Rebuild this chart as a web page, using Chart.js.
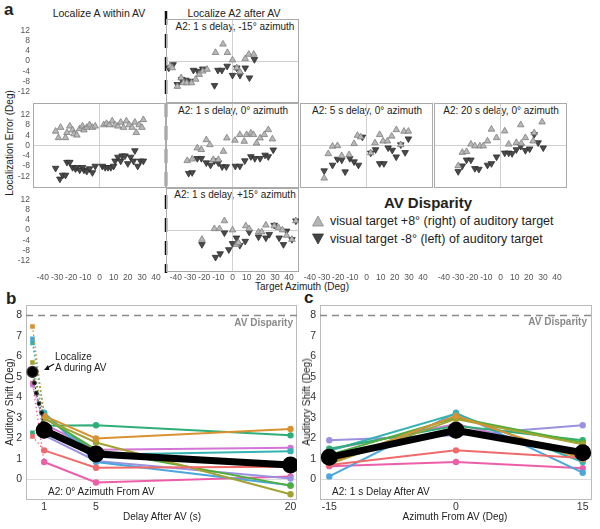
<!DOCTYPE html>
<html>
<head>
<meta charset="utf-8">
<script src="https://cdn.jsdelivr.net/npm/chart.js@4.4.0/dist/chart.umd.min.js"></script>
<style>
  body { margin: 0; width: 600px; height: 529px; position: relative; background: #fff; overflow: hidden;
         font-family: "Liberation Sans", Arial, sans-serif; color: #222; }
  canvas { position: absolute; }
  .t { position: absolute; white-space: nowrap; line-height: 1; }
  .lab { font-weight: bold; font-size: 17px; }
  .sub { font-size: 10px; transform: translate(-50%, -50%); }
  svg { position: absolute; overflow: visible; }
</style>
</head>
<body>

<div class="t lab" style="left:4px;top:1px">a</div>
<div class="t" style="left:99px;top:13px;font-size:10.5px;transform:translate(-50%,-50%)">Localize A within AV</div>
<div class="t" style="left:234px;top:13px;font-size:10.5px;transform:translate(-50%,-50%)">Localize A2 after AV</div>
<div class="t sub" style="left:235px;top:27px">A2: 1 s delay, -15° azimuth</div>
<div class="t sub" style="left:233px;top:111px">A2: 1 s delay, 0° azimuth</div>
<div class="t sub" style="left:367px;top:111px">A2: 5 s delay, 0° azimuth</div>
<div class="t sub" style="left:501px;top:111px">A2: 20 s delay, 0° azimuth</div>
<div class="t sub" style="left:235px;top:195px">A2: 1 s delay, +15° azimuth</div>
<div class="t" style="left:10px;top:143px;font-size:10px;transform:translate(-50%,-50%) rotate(-90deg)">Localization Error (Deg)</div>
<div class="t" style="left:302px;top:287px;font-size:10px;transform:translate(-50%,-50%)">Target Azimuth (Deg)</div>

<div class="t" style="left:428px;top:202px;font-size:15px;font-weight:bold;transform:translate(-50%,-50%)">AV Disparity</div>
<svg style="left:312px;top:215px" width="12" height="12"><polygon points="6,1 11.5,11 0.5,11" fill="#b5b5b5" stroke="#888" stroke-width="0.8"/></svg>
<div class="t" style="left:330px;top:221px;font-size:12.5px;transform:translateY(-50%)">visual target +8° (right) of auditory target</div>
<svg style="left:312px;top:233px" width="12" height="12"><polygon points="0.5,1 11.5,1 6,11" fill="#444" stroke="#333" stroke-width="0.8"/></svg>
<div class="t" style="left:330px;top:239px;font-size:12.5px;transform:translateY(-50%)">visual target -8° (left) of auditory target</div>

<svg style="left:164px;top:11px" width="4" height="262"><line x1="2" y1="0" x2="2" y2="262" stroke="#111" stroke-width="2.5" stroke-dasharray="14 9"/></svg>

<div class="t lab" style="left:6px;top:290px">b</div>
<div class="t lab" style="left:304px;top:289px">c</div>

<script>
// ---- panel a: localization error (deg) vs target azimuth (deg), [azimuth, error]
const azTicks = [-40, -30, -20, -10, 0, 10, 20, 30, 40];
const errTicks = [-12, -8, -4, 0, 4, 8, 12];

const withinUp = [[-31,5.5],[-29,3],[-27.5,7],[-24,3],[-23,5],[-21,7.5],[-19,6],[-18,4.5],[-16,4],[-14,6.5],[-12,7.5],[-11,6],[-9,7],[-7,8],[-5,7],[-3,7.5],[3,8],[5,8.5],[7,8],[9,9.5],[11,8],[13,7.5],[15,9],[17,7],[19,9.5],[21,8],[23,7],[25,9],[26,5],[28,8],[30,7],[31,10]];
const withinDown = [[-31,-8.8],[-28,-13],[-26,-11.5],[-24,-11.5],[-23,-6.5],[-21,-6.5],[-19,-8.5],[-17,-9],[-16,-8.5],[-14,-9.5],[-12,-8.5],[-11,-9.5],[-9,-10],[-7,-9],[-5,-10.5],[-3,-8],[2,-8],[4,-8.5],[6,-8.5],[8,-8.5],[10,-8],[11,-6],[13,-4.5],[15,-6],[16,-4],[18,-4],[20,-7],[22,-4.5],[24,-6],[25,-2],[27,-8],[29,-6],[31,-6]];

const m15Up = [[-44,-2],[-42.6,-2.7],[-39,-10],[-36.3,-6.6],[-34.6,-8.6],[-32.3,-8.6],[-29,-8.6],[-26,-7.2],[-23.5,-5.3],[-21,-4],[-18,-3.3],[-12,3.3],[-6.7,6.6],[-3.6,3.3],[0,0.4],[3,-2.7],[5.3,-4.3],[9,0.9],[11.5,2.6],[15,2.6]];
const m15Down = [[-45,-2.7],[-42,-1.4],[-39,-9.2],[-36,-7.2],[-33,-7.5],[-30,-7.9],[-27.6,-3.6],[-24.5,-4],[-21,-3.1],[-12.7,-9.6],[-10.3,-3.6],[-7.5,-3.6],[-3.8,-2],[0,-5.6],[3,-2.7],[5.3,-5.6],[9,-2.7],[12,-6.6],[15.5,0.6]];

const d1Up = [[-32,-5.9],[-28.5,-5.3],[-24.9,-1],[-22,-1.6],[-18.5,2.2],[-16,0.3],[-13.6,-5.5],[-10,-5.5],[-6.4,-2.3],[-4,2.9],[1.7,2],[5.2,4.2],[8.3,1.6],[10,4.2],[13,4.8],[14.8,4.2],[17,0.9],[19.5,2.9],[22.5,4.2],[25.3,6.1],[28.2,2.5]];
const d1Down = [[-31,-10.8],[-28.5,-10.5],[-24.9,-5],[-22,-5],[-18.5,-6.7],[-15.5,-7.6],[-12.7,-5.9],[-10,-6.7],[-7.3,-8.2],[-4.4,-8.2],[2,-8],[5.2,-8],[8.7,-5.9],[13,-4.3],[15.8,-5],[19.5,-5],[23,-3.7],[25.3,-4.3],[28.8,-1.7]];

const d5Up = [[-29.9,-12.7],[-27,-3.2],[-24,-0.3],[-20.5,-0.1],[-17.5,-4],[-12.3,-3.6],[-8.8,0.7],[-6.4,3.9],[-4.1,3.3],[3,-2.9],[6,1],[9.3,4.2],[11.7,1.7],[14.8,1.7],[17.8,3.6],[21.1,6.1],[24.2,0.3],[26.5,5.5],[29.6,5.5]];
const d5Down = [[-29.9,-9.8],[-24,-7.6],[-20.5,-5.3],[-17.5,-5.6],[-15.1,-10.2],[-11.8,-5],[-8.8,-6.3],[-5.7,-7.6],[-2.9,3.3],[3,-2.9],[6.4,-1.6],[9.3,-7],[12.3,-7],[15.3,-0.9],[18.2,-1.8],[21,-4.4],[24.2,0.3],[27.3,-2.7],[29.6,2.6]];

const d20Up = [[-29.9,-7.9],[-27,-2.7],[-24,-2.4],[-20.9,0.5],[-18.1,-0.2],[-14.6,-0.2],[-12.2,-0.2],[-9.2,1.7],[-6.4,6.3],[-2.8,3],[3,5.6],[5.8,0.5],[11.2,1.1],[14.3,8],[14.7,0.8],[17.6,3],[23,1.7],[23.8,4.9],[29.4,9.1]];
const d20Down = [[-29.9,-10.1],[-27,-7.9],[-24,-5.6],[-20.9,-5.6],[-18.1,-8.9],[-15.3,-9.2],[-9.2,-7.6],[-6.4,-7],[-2.8,-4.4],[3,-2.9],[5.8,-2.9],[8.2,-3.1],[11.2,-1.6],[14.3,-0.3],[17.6,-1.9],[20.6,-1.3],[23.8,4.3],[26.6,1.1],[30.2,-0.9]];

const p15Up = [[-21.6,-3.7],[-12.8,0.5],[-9.2,0.5],[-5.7,3.6],[0,0],[2.8,-5.7],[4.2,-5],[9.4,1.6],[11.8,0.5],[18.4,-0.8],[20.7,-0.8],[23.6,1.9],[29.5,1.6],[32.5,0.9],[35.3,0],[38.2,-2.1],[42,-3.7],[44.8,3.6]];
const p15Down = [[-21.6,-5.7],[-12,-10.7],[-8.7,-9.3],[-5.7,-1.1],[-2.6,-7.7],[0,-5.3],[2.8,-3.1],[5.2,-6],[9,-4.4],[11.8,-0.8],[18.4,-2.7],[23.6,-3.1],[26,-1.7],[29.5,1.9],[33,-3.1],[36,-5.7],[38.2,-0.4],[42,-3.7],[44.8,3.6]];

// ---- panels b and c: auditory shift (deg)
const avDisparity = 8;
const shiftTicks = [0, 1, 2, 3, 4, 5, 6, 7, 8];
const delays = [1, 5, 20];
const azFromAV = [-15, 0, 15];
const subjColors = ['#ef6b6b', '#d99231', '#a2a332', '#4fae3c', '#2fae78', '#35b3b3', '#4ba6dc', '#9a91e0', '#d275d6', '#ec5fa8'];
const shiftDelay = [
  [1.42, 0.57, 0.62],
  [3.1, 2.0, 2.46],
  [2.95, 1.8, -0.72],
  [3.0, 1.45, -0.3],
  [2.62, 2.64, 2.15],
  [3.2, 1.2, 1.38],
  [3.25, 0.85, -0.28],
  [2.15, 0.9, 0.05],
  [2.7, 1.45, 1.54],
  [0.85, -0.15, 0.15]
];
const meanDelay = [2.4, 1.24, 0.7];
const duringPos = 0.1;
const duringAV = [2.1, 7.45, 5.7, 5.3, 2.28, 6.65, 6.85, 5.1, 4.6, 4.7];
const meanDuring = 5.24;
const meanPathX = [0.25, 0.4, 0.6, 0.8, 0.9];
const meanPathY = [4.7, 4.2, 3.7, 3.25, 2.75];
const shiftAz = [
  [0.7, 1.42, 1.05],
  [0.8, 3.1, 1.0],
  [0.75, 2.95, 1.72],
  [1.2, 3.0, 1.8],
  [1.5, 2.62, 1.91],
  [1.4, 3.2, 0.85],
  [0.15, 3.25, 0.33],
  [1.91, 2.15, 2.64],
  [1.45, 2.7, 1.2],
  [0.65, 0.85, 0.55]
];
const meanAz = [1.08, 2.4, 1.3];

Chart.defaults.font.family = '"Liberation Sans", Arial, sans-serif';

// box round the plot area
const boxPlugin = {
  id: 'box',
  beforeDatasetsDraw(chart, args, opts) {
    if (!opts.show) return;
    const a = chart.chartArea, ctx = chart.ctx;
    ctx.save();
    ctx.strokeStyle = opts.color || '#aaa';
    ctx.lineWidth = 1;
    ctx.strokeRect(a.left + 0.5, a.top + 0.5, a.right - a.left - 1, a.bottom - a.top - 1);
    ctx.restore();
  }
};
// dashed AV disparity line
const refLine = {
  id: 'refLine',
  beforeDatasetsDraw(chart, args, opts) {
    if (typeof opts.value !== 'number') return;
    const a = chart.chartArea, ctx = chart.ctx;
    const y = Math.round(chart.scales.y.getPixelForValue(opts.value)) + 0.5;
    ctx.save();
    ctx.strokeStyle = '#8a8a8a';
    ctx.lineWidth = 1.5;
    ctx.setLineDash([7, 5]);
    ctx.beginPath();
    ctx.moveTo(a.left, y);
    ctx.lineTo(a.right, y);
    ctx.stroke();
    ctx.restore();
  }
};
Chart.register(boxPlugin, refLine);

function addCanvas(x, y, w, h) {
  const c = document.createElement('canvas');
  c.width = w; c.height = h;
  c.style.left = x + 'px'; c.style.top = y + 'px';
  c.style.width = w + 'px'; c.style.height = h + 'px';
  document.body.appendChild(c);
  return c;
}

function addText(txt, style) {
  const d = document.createElement('div');
  d.className = 't';
  d.textContent = txt;
  d.style.cssText = style;
  document.body.appendChild(d);
}

const toPts = arr => arr.map(p => ({ x: p[0], y: p[1] }));
const zeroGrid = c => c.tick.value === 0 ? '#d0d0d0' : 'transparent';
// fixed axis sizes, no extra label padding, so plot boxes land where wanted
const fitX = h => s => { s.height = h; s.paddingLeft = 0; s.paddingRight = 0; };
const fitY = w => s => { s.width = w; s.paddingTop = 0; s.paddingBottom = 0; };

// one small scatter panel of a
function sub(x, y, h, o) {
  const L = 30, B = 12, W = 133;
  const cv = addCanvas(x - L, y, W + L, h + B);
  const ds = [];
  if (o.up) ds.push({ data: toPts(o.up), pointStyle: 'triangle', pointRadius: 3.8,
    backgroundColor: '#b8b8b8', borderColor: '#7d7d7d', borderWidth: 0.8 });
  if (o.down) ds.push({ data: toPts(o.down), pointStyle: 'triangle', rotation: 180, pointRadius: 3.8,
    backgroundColor: '#4a4a4a', borderColor: '#2e2e2e', borderWidth: 0.8 });
  new Chart(cv, {
    type: 'scatter',
    data: { datasets: ds },
    options: {
      responsive: false, animation: false, devicePixelRatio: 1,
      layout: { padding: 0, autoPadding: false },
      plugins: { legend: { display: false }, tooltip: { enabled: false }, box: { show: !!o.box, color: '#aaa' } },
      scales: {
        x: { type: 'linear', min: -47, max: 47,
          afterBuildTicks: s => { s.ticks = azTicks.map(v => ({ value: v })); },
          afterFit: fitX(B),
          grid: { display: !!o.box, drawTicks: false, color: zeroGrid },
          border: { display: false },
          ticks: { color: o.xt ? '#555' : 'transparent', font: { size: 8.5 }, padding: 1, autoSkip: false, maxRotation: 0 } },
        y: { min: -16.5, max: 16.5,
          afterBuildTicks: s => { s.ticks = errTicks.map(v => ({ value: v })); },
          afterFit: fitY(L),
          grid: { display: !!o.box, drawTicks: false, color: zeroGrid },
          border: { display: false },
          ticks: { color: o.yt ? '#555' : 'transparent', font: { size: 8.5 }, padding: 3, autoSkip: false } }
      }
    }
  });
}

const colX = [33, 166, 300, 434];
sub(colX[0], 19, 84, { yt: true });
sub(colX[1], 19, 84, { box: true, up: m15Up, down: m15Down });
sub(colX[0], 103, 85, { box: true, yt: true, up: withinUp, down: withinDown });
sub(colX[1], 103, 85, { box: true, up: d1Up, down: d1Down });
sub(colX[2], 103, 85, { box: true, up: d5Up, down: d5Down });
sub(colX[3], 103, 85, { box: true, up: d20Up, down: d20Down });
sub(colX[0], 188, 84, { yt: true, xt: true });
sub(colX[1], 188, 84, { box: true, xt: true, up: p15Up, down: p15Down });
sub(colX[2], 188, 84, { xt: true });
sub(colX[3], 188, 84, { xt: true });

// shift panels b and c
function shiftChart(cv, ds, xmin, xmax, xticks, yw, padRight) {
  return new Chart(cv, {
    type: 'line',
    data: { datasets: ds },
    options: {
      responsive: false, animation: false, devicePixelRatio: 1,
      layout: { padding: { top: 5, right: padRight, left: 0, bottom: 0 }, autoPadding: false },
      plugins: { legend: { display: false }, tooltip: { enabled: false },
        box: { show: true, color: '#bbb' }, refLine: { value: avDisparity } },
      scales: {
        x: { type: 'linear', min: xmin, max: xmax,
          afterBuildTicks: s => { s.ticks = xticks.map(v => ({ value: v })); },
          afterFit: fitX(29),
          grid: { display: false, drawTicks: false }, border: { display: false },
          ticks: { color: '#333', font: { size: 10.5 }, padding: 1, autoSkip: false, maxRotation: 0 } },
        y: { min: -1, max: 8.5,
          afterBuildTicks: s => { s.ticks = shiftTicks.map(v => ({ value: v })); },
          afterFit: fitY(yw),
          grid: { drawTicks: false, color: c => c.tick.value === 0 ? '#dcdcdc' : 'transparent' },
          border: { display: false },
          ticks: { color: '#333', font: { size: 10.5 }, padding: 4 } }
      }
    }
  });
}

function meanSet(xs, ys) {
  return { data: xs.map((v, i) => ({ x: v, y: ys[i] })), borderColor: '#000', backgroundColor: '#000',
    borderWidth: 7, pointRadius: 5, tension: 0 };
}
function subjSets(xs, rows) {
  return rows.map((r, k) => ({ data: xs.map((v, i) => ({ x: v, y: r[i] })), borderColor: subjColors[k],
    backgroundColor: subjColors[k], borderWidth: 2, pointRadius: 2.2, tension: 0 }));
}

// b
const dsB = [meanSet(delays, meanDelay)];
dsB.push({ data: [{ x: duringPos, y: meanDuring }].concat(meanPathX.map((v, i) => ({ x: v, y: meanPathY[i] })), [{ x: delays[0], y: meanDelay[0] }]),
  borderColor: '#333', backgroundColor: '#000', borderWidth: 1.2, borderDash: [1.5, 2.5],
  pointRadius: [5.5, 1.8, 1.8, 1.8, 1.8, 1.8, 0], tension: 0 });
subjSets(delays, shiftDelay).forEach(d => dsB.push(d));
duringAV.forEach((v, k) => dsB.push({ data: [{ x: duringPos, y: v }, { x: delays[0], y: shiftDelay[k][0] }],
  borderColor: subjColors[k], backgroundColor: subjColors[k], borderWidth: 1.3, borderDash: [1.5, 2.5],
  pointStyle: 'rect', pointRadius: [2.3, 0], tension: 0 }));
shiftChart(addCanvas(0, 300, 300, 229), dsB, -0.4, 20.5, delays, 26, 3);

// c
const dsC = [meanSet(azFromAV, meanAz)];
subjSets(azFromAV, shiftAz).forEach(d => dsC.push(d));
shiftChart(addCanvas(300, 300, 300, 229), dsC, -16.1, 16.1, azFromAV, 20, 8);

// labels of b and c
const gray = 'font-size:10px;font-weight:bold;color:#8a8a8a;transform:translateY(-50%);';
addText('AV Disparity', gray + 'right:307px;top:323px');
addText('AV Disparity', gray + 'right:13px;top:322px');
addText('Localize', 'font-size:10px;left:55px;top:357px;transform:translateY(-50%)');
addText('A during AV', 'font-size:10px;left:55px;top:368px;transform:translateY(-50%)');
addText('A2: 0° Azimuth From AV', 'font-size:10px;left:48px;top:492px;transform:translateY(-50%)');
addText('A2: 1 s Delay After AV', 'font-size:10px;left:332px;top:492px;transform:translateY(-50%)');
addText('Auditory Shift (Deg)', 'font-size:10px;left:10px;top:402px;transform:translate(-50%,-50%) rotate(-90deg)');
addText('Auditory Shift (Deg)', 'font-size:10px;left:307px;top:402px;transform:translate(-50%,-50%) rotate(-90deg)');
addText('Delay After AV (s)', 'font-size:10px;left:162px;top:517px;transform:translate(-50%,-50%)');
addText('Azimuth From AV (Deg)', 'font-size:10px;left:455px;top:517px;transform:translate(-50%,-50%)');
</script>
<svg style="left:43px;top:362px" width="12" height="10"><line x1="11" y1="2" x2="4" y2="6" stroke="#111" stroke-width="1.3"/><polygon points="1,8 5,3 6.5,8" fill="#111"/></svg>
</body>
</html>
